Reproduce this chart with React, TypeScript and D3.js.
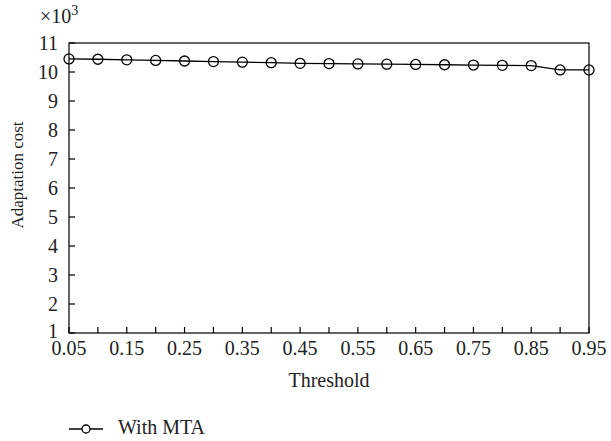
import React, { useEffect, useRef } from 'react';
import * as d3 from 'd3';

const thresholds = [0.05, 0.1, 0.15, 0.2, 0.25, 0.3, 0.35, 0.4, 0.45, 0.5, 0.55, 0.6, 0.65, 0.7, 0.75, 0.8, 0.85, 0.9, 0.95];
const withMTA = [10.45, 10.44, 10.42, 10.4, 10.38, 10.36, 10.34, 10.32, 10.3, 10.29, 10.28, 10.27, 10.26, 10.25, 10.24, 10.23, 10.22, 10.07, 10.07];
const xLabelTicks = [0.05, 0.15, 0.25, 0.35, 0.45, 0.55, 0.65, 0.75, 0.85, 0.95];
const yTicks = [1, 2, 3, 4, 5, 6, 7, 8, 9, 10, 11];

export default function App() {
    const ref = useRef(null);

    useEffect(() => {
        const svg = d3.select(ref.current);
        svg.selectAll('*').remove();

        const font = '"Liberation Serif", "Times New Roman", "DejaVu Serif", serif';
        const left = 69, right = 589, top = 43, bottom = 333;

        const x = d3.scaleLinear().domain([0.05, 0.95]).range([left, right]);
        const y = d3.scaleLinear().domain([1, 11]).range([bottom, top]);

        const txt = (sel, size = 20) => sel.style('font-family', font).style('font-size', size + 'px').attr('fill', '#222');

        // frame
        svg.append('rect')
            .attr('x', left).attr('y', top)
            .attr('width', right - left).attr('height', bottom - top)
            .attr('fill', 'none').attr('stroke', '#000').attr('stroke-width', 1.2);

        // x ticks (inward)
        svg.append('g').selectAll('line')
            .data(thresholds)
            .enter().append('line')
            .attr('x1', (d) => x(d)).attr('x2', (d) => x(d))
            .attr('y1', bottom).attr('y2', bottom - 6)
            .attr('stroke', '#000').attr('stroke-width', 1.2);

        svg.append('g').selectAll('text')
            .data(xLabelTicks)
            .enter().append('text')
            .attr('x', (d) => x(d)).attr('y', bottom + 22)
            .attr('text-anchor', 'middle')
            .call(txt)
            .text((d) => d.toFixed(2));

        // y ticks (inward)
        svg.append('g').selectAll('line')
            .data(yTicks)
            .enter().append('line')
            .attr('x1', left).attr('x2', left + 6)
            .attr('y1', (d) => y(d)).attr('y2', (d) => y(d))
            .attr('stroke', '#000').attr('stroke-width', 1.2);

        svg.append('g').selectAll('text')
            .data(yTicks)
            .enter().append('text')
            .attr('x', left - 11).attr('y', (d) => y(d) + (d === 1 ? 5 : 7))
            .attr('text-anchor', 'end')
            .call(txt)
            .text((d) => d);

        // exponent label
        const exp = svg.append('text')
            .attr('x', 40).attr('y', 23)
            .call(txt);
        exp.append('tspan').text('\u00d710');
        exp.append('tspan').attr('dy', -8).style('font-size', '14px').text('3');

        // axis titles
        svg.append('text')
            .attr('transform', `translate(23, 175) rotate(-90)`)
            .attr('text-anchor', 'middle')
            .call(txt, 17)
            .text('Adaptation cost');

        svg.append('text')
            .attr('x', (left + right) / 2).attr('y', 387)
            .attr('text-anchor', 'middle')
            .call(txt)
            .text('Threshold');

        // series
        const pts = thresholds.map((t, i) => [t, withMTA[i]]);
        const line = d3.line().x((d) => x(d[0])).y((d) => y(d[1]));
        svg.append('path')
            .attr('d', line(pts))
            .attr('fill', 'none').attr('stroke', '#000').attr('stroke-width', 1.3);

        svg.append('g').selectAll('circle')
            .data(pts)
            .enter().append('circle')
            .attr('cx', (d) => x(d[0])).attr('cy', (d) => y(d[1]))
            .attr('r', 5)
            .attr('fill', 'none').attr('stroke', '#000').attr('stroke-width', 1.3);

        // legend
        svg.append('line')
            .attr('x1', 69).attr('x2', 103).attr('y1', 429).attr('y2', 429)
            .attr('stroke', '#000').attr('stroke-width', 1.3);
        svg.append('circle')
            .attr('cx', 86).attr('cy', 429).attr('r', 4)
            .attr('fill', 'white').attr('stroke', '#000').attr('stroke-width', 1.3);
        svg.append('text')
            .attr('x', 118).attr('y', 434)
            .call(txt)
            .text('With MTA');
    }, []);

    return (
        <svg ref={ref} width={611} height={441} style={{ position: 'absolute', left: 0, top: 0 }} />
    );
}
